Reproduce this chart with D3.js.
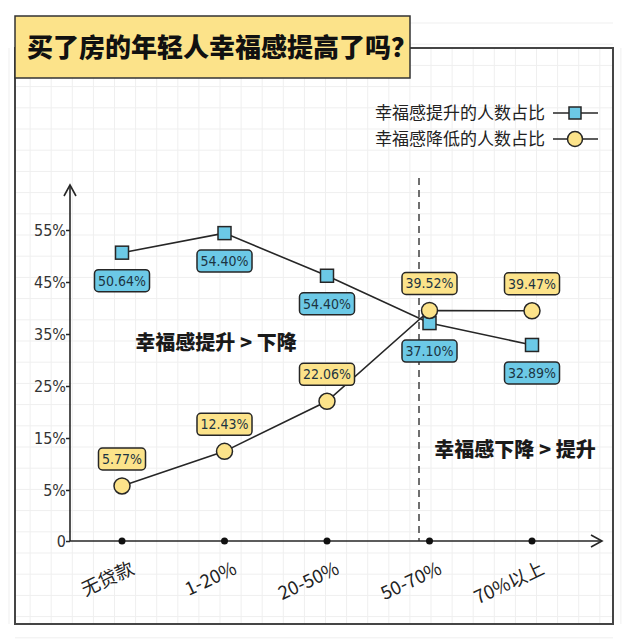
<!DOCTYPE html>
<html>
<head>
<meta charset="utf-8">
<script src="https://cdn.jsdelivr.net/npm/d3@7/dist/d3.min.js"></script>
<style>
  html, body { margin: 0; padding: 0; background: #fff; }
  svg { display: block; }
</style>
</head>
<body>
<svg id="chart" width="629" height="642"></svg>
<script>
// ---------- data ----------
const title = "买了房的年轻人幸福感提高了吗？";
const categories = ["无贷款", "1-20%", "20-50%", "50-70%", "70%以上"];
const riseValues = [50.64, 54.40, 46.2, 37.10, 32.89];
const riseLabels = ["50.64%", "54.40%", "54.40%", "37.10%", "32.89%"];
const fallValues = [5.77, 12.43, 22.06, 39.52, 39.47];
const fallLabels = ["5.77%", "12.43%", "22.06%", "39.52%", "39.47%"];
const yTicks = [0, 5, 15, 25, 35, 45, 55];
const yTickLabels = ["0", "5%", "15%", "25%", "35%", "45%", "55%"];
const legendNames = ["幸福感提升的人数占比", "幸福感降低的人数占比"];
const noteLeft = "幸福感提升 > 下降";
const noteRight = "幸福感下降 > 提升";

// ---------- styles ----------
const BLUE = "#6cc9e6", YELLOW = "#fce38a", INK = "#262626";
const CJK = "'Noto Sans CJK SC', 'Noto Sans', sans-serif";
const NUM = "'DejaVu Sans Condensed', 'DejaVu Sans', sans-serif";

const svg = d3.select("#chart");

// background grid
const grid = svg.append("g");
for (let x = 9; x < 629; x += 21.1) grid.append("line").attr("x1", x).attr("x2", x).attr("y1", 48).attr("y2", 624).attr("stroke", "#efefef").attr("stroke-width", 1);
for (let y = 23; y < 642; y += 21.2) grid.append("line").attr("y1", y).attr("y2", y).attr("x1", 15).attr("x2", 613).attr("stroke", "#efefef").attr("stroke-width", 1);

// frame
svg.append("rect").attr("x", 15).attr("y", 48).attr("width", 598).attr("height", 576)
  .attr("fill", "none").attr("stroke", "#454545").attr("stroke-width", 2);

// title box
svg.append("rect").attr("x", 15).attr("y", 16).attr("width", 395).attr("height", 62)
  .attr("fill", YELLOW).attr("stroke", "#333").attr("stroke-width", 1.5);
svg.append("text").attr("x", 27).attr("y", 57).text(title)
  .attr("font-family", CJK).attr("font-weight", 900).attr("font-size", 26).attr("fill", "#111");

// scales
const x = d3.scalePoint().domain(categories).range([122, 532]);
const y = d3.scaleLinear().domain([0, 5, 55]).range([541, 490, 230]);
const x0 = 70;

// y axis
const yAxis = svg.append("g").attr("transform", `translate(${x0},0)`)
  .call(d3.axisLeft(y).tickValues(yTicks).tickSize(4).tickFormat((d, i) => yTickLabels[i]));
yAxis.select(".domain").remove();
yAxis.selectAll(".tick line").attr("stroke", INK).attr("stroke-width", 1.5);
yAxis.selectAll(".tick text").attr("font-family", NUM).attr("font-size", 16).attr("fill", "#333").attr("x", -4);
svg.append("line").attr("x1", x0).attr("x2", x0).attr("y1", y(0)).attr("y2", 185).attr("stroke", INK).attr("stroke-width", 1.6);
svg.append("path").attr("d", `M${x0 - 6},${196} L${x0},${185} L${x0 + 6},${196}`).attr("fill", "none").attr("stroke", INK).attr("stroke-width", 1.6);

// x axis
svg.append("line").attr("x1", x0).attr("x2", 602).attr("y1", y(0)).attr("y2", y(0)).attr("stroke", INK).attr("stroke-width", 1.6);
svg.append("path").attr("d", `M${591},${y(0) - 6} L${602},${y(0)} L${591},${y(0) + 6}`).attr("fill", "none").attr("stroke", INK).attr("stroke-width", 1.6);
const xAxis = svg.append("g").attr("transform", `translate(0,${y(0)})`)
  .call(d3.axisBottom(x).tickSize(0).tickFormat(d => d));
xAxis.select(".domain").remove();
xAxis.selectAll(".tick text")
  .attr("font-family", CJK).attr("font-size", 18.5).attr("fill", "#222")
  .attr("text-anchor", "end").attr("dy", null).attr("y", 0)
  .attr("transform", "translate(13,32) rotate(-25)");
svg.selectAll(".xdot").data(categories).join("circle")
  .attr("cx", d => x(d)).attr("cy", y(0)).attr("r", 3.5).attr("fill", "#111");

// dashed divider
svg.append("line").attr("x1", 419).attr("x2", 419).attr("y1", 178).attr("y2", y(0))
  .attr("stroke", "#333").attr("stroke-width", 1.4).attr("stroke-dasharray", "7,5");

// lines
const line = d3.line().x((d, i) => x(categories[i])).y(d => y(d));
svg.append("path").datum(riseValues).attr("d", line).attr("fill", "none").attr("stroke", INK).attr("stroke-width", 1.6);
svg.append("path").datum(fallValues).attr("d", line).attr("fill", "none").attr("stroke", INK).attr("stroke-width", 1.6);

// markers
svg.selectAll(".sq").data(riseValues).join("rect")
  .attr("x", (d, i) => x(categories[i]) - 6.5).attr("y", d => y(d) - 6.5)
  .attr("width", 13).attr("height", 13).attr("fill", BLUE).attr("stroke", INK).attr("stroke-width", 1.5);
svg.selectAll(".ci").data(fallValues).join("circle")
  .attr("cx", (d, i) => x(categories[i])).attr("cy", d => y(d)).attr("r", 8)
  .attr("fill", YELLOW).attr("stroke", INK).attr("stroke-width", 1.5);

// value labels
function labelBox(cx, cy, txt, fill) {
  const g = svg.append("g");
  const t = g.append("text").attr("x", cx).attr("y", cy + 5).attr("text-anchor", "middle")
    .attr("font-family", NUM).attr("font-size", 14).attr("fill", "#1c3442").text(txt);
  const w = t.node().getComputedTextLength() + 7;
  g.insert("rect", "text").attr("x", cx - w / 2).attr("y", cy - 11).attr("width", w).attr("height", 22)
    .attr("rx", 4).attr("fill", fill).attr("stroke", INK).attr("stroke-width", 1.5);
}
riseValues.forEach((v, i) => labelBox(x(categories[i]), y(v) + 28, riseLabels[i], BLUE));
fallValues.forEach((v, i) => labelBox(x(categories[i]), y(v) - 27, fallLabels[i], YELLOW));

// notes
svg.append("text").attr("x", 216).attr("y", 350).attr("text-anchor", "middle").text(noteLeft)
  .attr("font-family", CJK).attr("font-weight", 900).attr("font-size", 20).attr("fill", "#1a1a1a");
svg.append("text").attr("x", 515).attr("y", 457).attr("text-anchor", "middle").text(noteRight)
  .attr("font-family", CJK).attr("font-weight", 900).attr("font-size", 20).attr("fill", "#1a1a1a");

// legend
const legY = [113, 139];
legendNames.forEach((n, i) => {
  svg.append("text").attr("x", 545).attr("y", legY[i] + 6).attr("text-anchor", "end").text(n)
    .attr("font-family", CJK).attr("font-size", 17).attr("fill", "#222");
  svg.append("line").attr("x1", 553).attr("x2", 598).attr("y1", legY[i]).attr("y2", legY[i]).attr("stroke", INK).attr("stroke-width", 1.5);
  if (i === 0) {
    svg.append("rect").attr("x", 569).attr("y", legY[i] - 6).attr("width", 12).attr("height", 12)
      .attr("fill", BLUE).attr("stroke", INK).attr("stroke-width", 1.5);
  } else {
    svg.append("circle").attr("cx", 575).attr("cy", legY[i]).attr("r", 7.5)
      .attr("fill", YELLOW).attr("stroke", INK).attr("stroke-width", 1.5);
  }
});
</script>
</body>
</html>
